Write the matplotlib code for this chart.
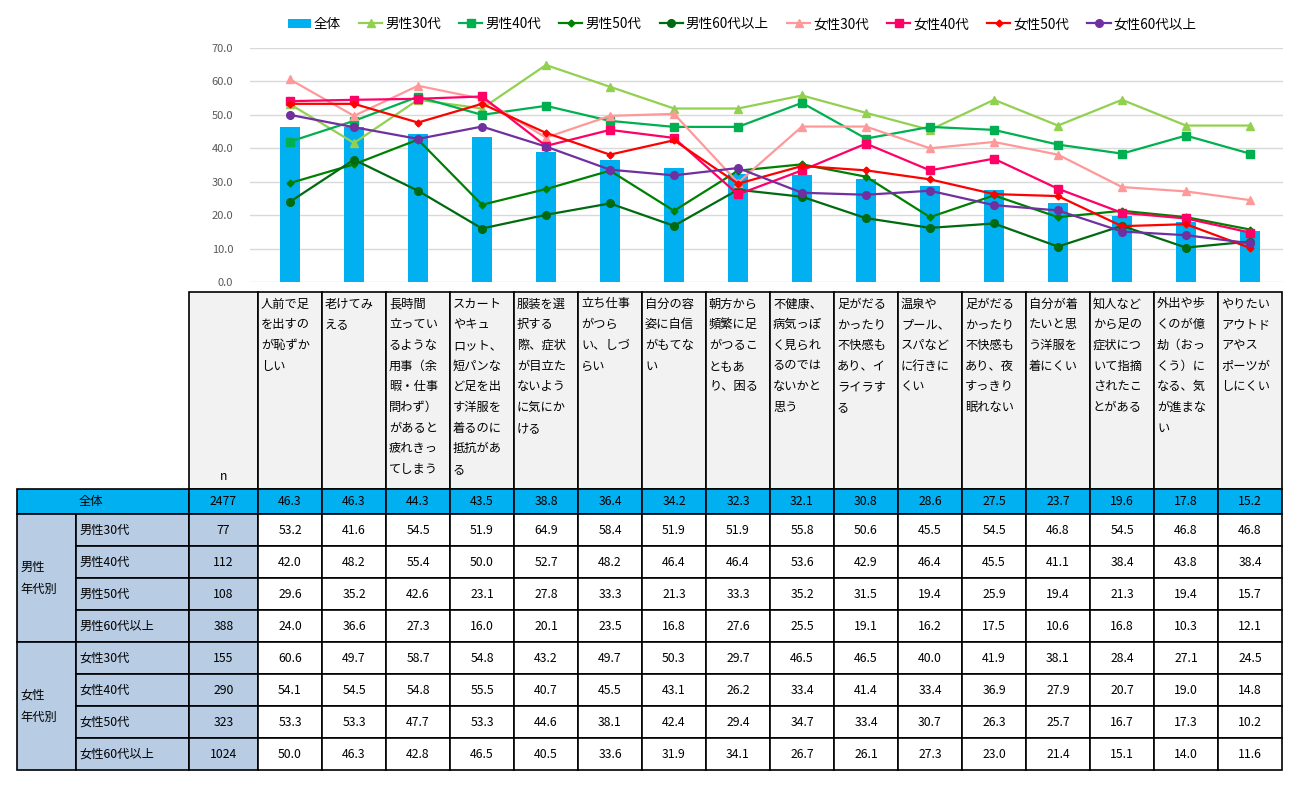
import numpy as np
import matplotlib
matplotlib.use("Agg")
import matplotlib.pyplot as plt
from matplotlib.patches import Rectangle

plt.rcParams['font.family'] = ['Noto Sans CJK JP', 'DejaVu Sans']

# データ ----------------------------------------------------------------
items = ["人前で足\nを出すの\nが恥ずか\nしい",
         "老けてみ\nえる",
         "長時間\n立ってい\nるような\n用事（余\n暇・仕事\n問わず）\nがあると\n疲れきっ\nてしまう",
         "スカート\nやキュ\nロット、\n短パンな\nど足を出\nす洋服を\n着るのに\n抵抗があ\nる",
         "服装を選\n択する\n際、症状\nが目立た\nないよう\nに気にか\nける",
         "立ち仕事\nがつら\nい、しづ\nらい",
         "自分の容\n姿に自信\nがもてな\nい",
         "朝方から\n頻繁に足\nがつるこ\nともあ\nり、困る",
         "不健康、\n病気っぽ\nく見られ\nるのでは\nないかと\n思う",
         "足がだる\nかったり\n不快感も\nあり、イ\nライラす\nる",
         "温泉や\nプール、\nスパなど\nに行きに\nくい",
         "足がだる\nかったり\n不快感も\nあり、夜\nすっきり\n眠れない",
         "自分が着\nたいと思\nう洋服を\n着にくい",
         "知人など\nから足の\n症状につ\nいて指摘\nされたこ\nとがある",
         "外出や歩\nくのが億\n劫（おっ\nくう）に\nなる、気\nが進まな\nい",
         "やりたい\nアウトド\nアやス\nポーツが\nしにくい"]

total_name = "全体"
total_n = 2477
total = [46.3, 46.3, 44.3, 43.5, 38.8, 36.4, 34.2, 32.3, 32.1, 30.8, 28.6, 27.5, 23.7, 19.6, 17.8, 15.2]

groups = ["男性\n年代別", "女性\n年代別"]
seg_names = ["男性30代", "男性40代", "男性50代", "男性60代以上",
             "女性30代", "女性40代", "女性50代", "女性60代以上"]
seg_n = [77, 112, 108, 388, 155, 290, 323, 1024]

m30 = [53.2, 41.6, 54.5, 51.9, 64.9, 58.4, 51.9, 51.9, 55.8, 50.6, 45.5, 54.5, 46.8, 54.5, 46.8, 46.8]
m40 = [42.0, 48.2, 55.4, 50.0, 52.7, 48.2, 46.4, 46.4, 53.6, 42.9, 46.4, 45.5, 41.1, 38.4, 43.8, 38.4]
m50 = [29.6, 35.2, 42.6, 23.1, 27.8, 33.3, 21.3, 33.3, 35.2, 31.5, 19.4, 25.9, 19.4, 21.3, 19.4, 15.7]
m60 = [24.0, 36.6, 27.3, 16.0, 20.1, 23.5, 16.8, 27.6, 25.5, 19.1, 16.2, 17.5, 10.6, 16.8, 10.3, 12.1]
f30 = [60.6, 49.7, 58.7, 54.8, 43.2, 49.7, 50.3, 29.7, 46.5, 46.5, 40.0, 41.9, 38.1, 28.4, 27.1, 24.5]
f40 = [54.1, 54.5, 54.8, 55.5, 40.7, 45.5, 43.1, 26.2, 33.4, 41.4, 33.4, 36.9, 27.9, 20.7, 19.0, 14.8]
f50 = [53.3, 53.3, 47.7, 53.3, 44.6, 38.1, 42.4, 29.4, 34.7, 33.4, 30.7, 26.3, 25.7, 16.7, 17.3, 10.2]
f60 = [50.0, 46.3, 42.8, 46.5, 40.5, 33.6, 31.9, 34.1, 26.7, 26.1, 27.3, 23.0, 21.4, 15.1, 14.0, 11.6]
seg_vals = [m30, m40, m50, m60, f30, f40, f50, f60]

# スタイル --------------------------------------------------------------
bar_color = '#00B0F0'
seg_style = [('#92D050', '^', 5.5), ('#00B050', 's', 5.5), ('#008000', 'D', 3.5), ('#006A10', 'o', 5.5),
             ('#FF9999', '^', 5.5), ('#FF0066', 's', 5.5), ('#FF0000', 'D', 3.5), ('#7030A0', 'o', 5.5)]

W, H = 1299, 785
fig = plt.figure(figsize=(W / 100, H / 100), dpi=100)

# グラフ部 --------------------------------------------------------------
x = np.arange(len(total))
ax = fig.add_axes([250 / W, 1 - 282 / H, (1283 - 250) / W, (282 - 48) / H])
bars = ax.bar(x, total, width=0.31, color=bar_color, label=total_name, zorder=2)
handles = [bars]
for name, vals, (c, mk, ms) in zip(seg_names, seg_vals, seg_style):
    ln, = ax.plot(x, vals, color=c, marker=mk, markersize=ms, linewidth=1.6,
                  label=name, zorder=3)
    handles.append(ln)
ax.set_xlim(-0.625, 15.516)
ax.set_ylim(0, 70)
ax.set_yticks(np.arange(0, 71, 10))
ax.set_yticklabels([f"{v:.1f}" for v in np.arange(0, 71, 10)])
ax.set_xticks([])
ax.tick_params(axis='y', length=0, pad=12, labelsize=8, labelcolor='#595959')
ax.grid(axis='y', color='#D9D9D9', linewidth=1, zorder=0)
for s in ax.spines.values():
    s.set_visible(False)

ax.legend(handles=handles, labels=[total_name] + seg_names,
          loc='upper center', bbox_to_anchor=(742 / W, 1 - 5 / H),
          bbox_transform=fig.transFigure, ncol=9, frameon=False,
          fontsize=9.8, handlelength=1.7, handletextpad=0.2, columnspacing=1.35)

# 表部 ------------------------------------------------------------------
tb = fig.add_axes([0, 0, 1, 1])
tb.set_xlim(0, W)
tb.set_ylim(H, 0)
tb.axis('off')

lw = 1.2
fs = 8.8
g_x0, lab_x0, n_x0, d_x0, col_w = 17, 76, 189, 258, 64
hdr_top, hdr_bot = 292, 489
row_h = 32
tot_bot = 514


def cell(x0, y0, w, h, fc):
    tb.add_patch(Rectangle((x0, y0), w, h, facecolor=fc, edgecolor='black', linewidth=lw))


# 見出し行
cell(n_x0, hdr_top, d_x0 - n_x0, hdr_bot - hdr_top, '#F2F2F2')
tb.text((n_x0 + d_x0) / 2, 476, "n", ha='center', va='center', fontsize=fs)
for i, lab in enumerate(items):
    cx = d_x0 + col_w * i
    cell(cx, hdr_top, col_w, hdr_bot - hdr_top, '#F2F2F2')
    for k, line in enumerate(lab.split("\n")):
        tb.text(cx + 3, 304 + 20.7 * k, line, ha='left', va='center', fontsize=fs)

# 全体行
cell(g_x0, hdr_bot, n_x0 - g_x0, tot_bot - hdr_bot, bar_color)
tb.text(79, (hdr_bot + tot_bot) / 2, total_name, ha='left', va='center', fontsize=fs)
cell(n_x0, hdr_bot, d_x0 - n_x0, tot_bot - hdr_bot, bar_color)
tb.text((n_x0 + d_x0) / 2, (hdr_bot + tot_bot) / 2, str(total_n), ha='center', va='center', fontsize=fs)
for i, v in enumerate(total):
    cx = d_x0 + col_w * i
    cell(cx, hdr_bot, col_w, tot_bot - hdr_bot, bar_color)
    tb.text(cx + col_w / 2, (hdr_bot + tot_bot) / 2, f"{v:.1f}", ha='center', va='center', fontsize=fs)

# 性年代別行
for gi, g in enumerate(groups):
    gy = tot_bot + gi * 4 * row_h
    cell(g_x0, gy, lab_x0 - g_x0, 4 * row_h, '#B8CCE4')
    gl = g.split("\n")
    for k, line in enumerate(gl):
        tb.text(20, gy + 2 * row_h - 10.5 + 21.5 * k, line, ha='left', va='center', fontsize=fs)
    for r in range(4):
        si = gi * 4 + r
        ry = gy + r * row_h
        cy = ry + row_h / 2
        cell(lab_x0, ry, n_x0 - lab_x0, row_h, '#B8CCE4')
        tb.text(79, cy, seg_names[si], ha='left', va='center', fontsize=fs)
        cell(n_x0, ry, d_x0 - n_x0, row_h, '#B8CCE4')
        tb.text((n_x0 + d_x0) / 2, cy, str(seg_n[si]), ha='center', va='center', fontsize=fs)
        for i, v in enumerate(seg_vals[si]):
            cx = d_x0 + col_w * i
            cell(cx, ry, col_w, row_h, 'white')
            tb.text(cx + col_w / 2, cy, f"{v:.1f}", ha='center', va='center', fontsize=fs)

fig.savefig("out.png", dpi=100)
